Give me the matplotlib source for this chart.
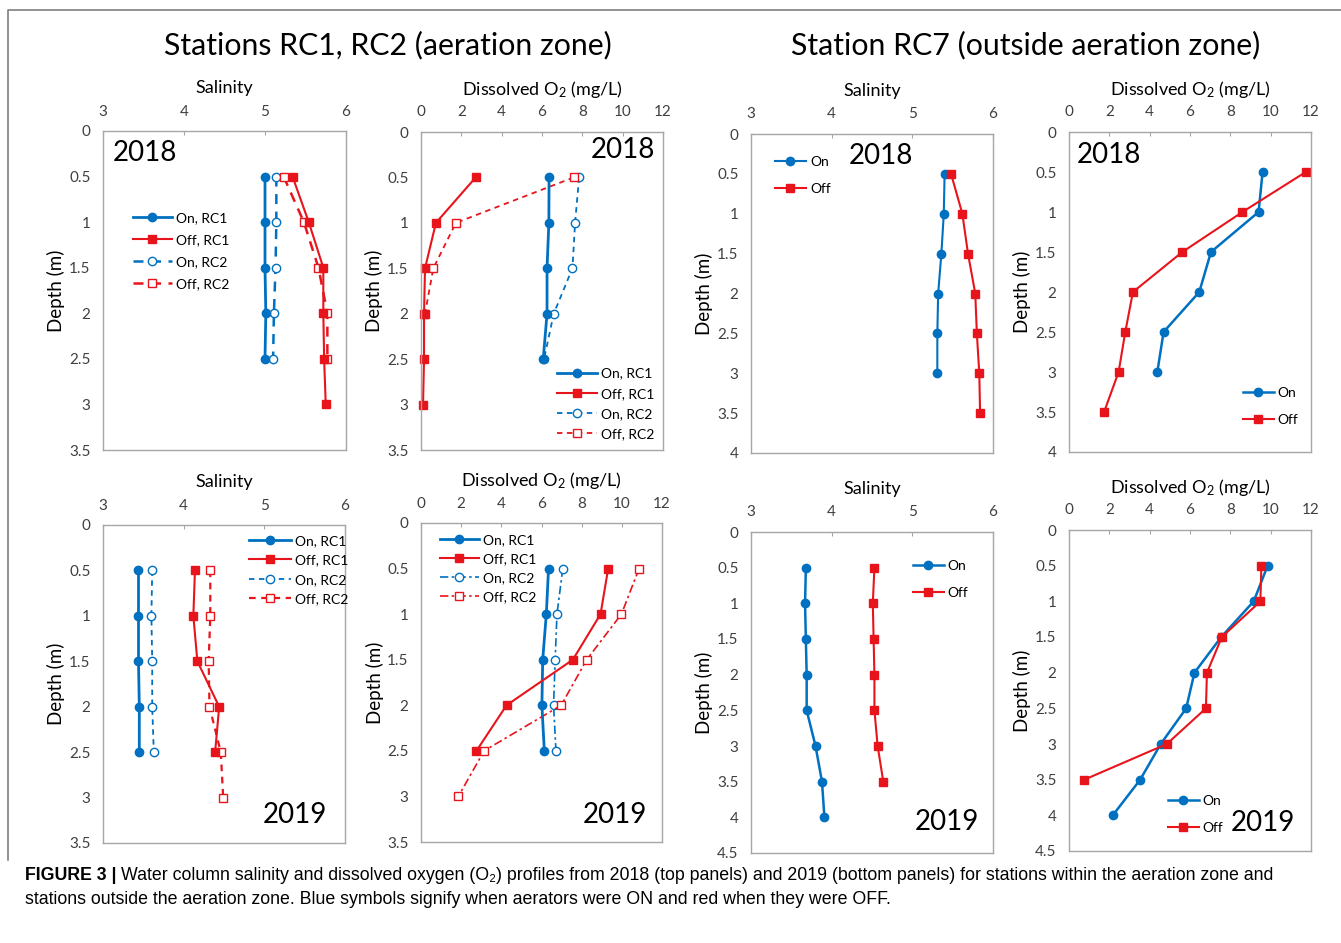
"""Salinity and dissolved O2 depth profiles, aerators on vs off (2018 / 2019)."""
import matplotlib
matplotlib.use("Agg")
import matplotlib.pyplot as plt
from matplotlib.lines import Line2D
from matplotlib.ticker import FuncFormatter

plt.rcParams["font.family"] = ["Lato", "DejaVu Sans"]
plt.rcParams["mathtext.fontset"] = "custom"
plt.rcParams["mathtext.rm"] = "Lato"
plt.rcParams["mathtext.it"] = "Lato:italic"
plt.rcParams["mathtext.bf"] = "Lato:bold"

BLUE = "#0070C0"
RED = "#E8141B"
GRID = "#A6A6A6"
TICK = "#404040"
W, H = 1341, 943

# ---- data: depths (m) ----
depth_25 = [0.5, 1.0, 1.5, 2.0, 2.5]
depth_30 = [0.5, 1.0, 1.5, 2.0, 2.5, 3.0]
depth_35 = [0.5, 1.0, 1.5, 2.0, 2.5, 3.0, 3.5]
depth_40 = [0.5, 1.0, 1.5, 2.0, 2.5, 3.0, 3.5, 4.0]
depth_20 = [0.5, 1.0, 1.5, 2.0]

# 2018, stations RC1 / RC2
sal18_on_rc1 = [5.00, 5.00, 5.00, 5.01, 5.00]
sal18_off_rc1 = [5.34, 5.54, 5.72, 5.72, 5.73, 5.75]
sal18_on_rc2 = [5.14, 5.14, 5.13, 5.11, 5.10]
sal18_off_rc2 = [5.23, 5.48, 5.66, 5.77, 5.77]
do18_on_rc1 = [6.35, 6.34, 6.25, 6.25, 6.06]
do18_off_rc1 = [2.71, 0.74, 0.20, 0.15, 0.15, 0.10]
do18_on_rc2 = [7.84, 7.64, 7.51, 6.58, 6.10]
do18_off_rc2 = [7.57, 1.73, 0.61, 0.20]

# 2018, station RC7
sal18_on_rc7 = [5.40, 5.39, 5.36, 5.32, 5.31, 5.31]
sal18_off_rc7 = [5.48, 5.62, 5.69, 5.78, 5.80, 5.83, 5.84]
do18_on_rc7 = [9.60, 9.40, 7.04, 6.46, 4.69, 4.38]
do18_off_rc7 = [11.74, 8.60, 5.62, 3.17, 2.79, 2.46, 1.74]

# 2019, stations RC1 / RC2
sal19_on_rc1 = [3.44, 3.44, 3.44, 3.45, 3.45]
sal19_off_rc1 = [4.14, 4.12, 4.17, 4.44, 4.39]
sal19_on_rc2 = [3.61, 3.60, 3.61, 3.61, 3.63]
sal19_off_rc2 = [4.33, 4.33, 4.31, 4.32, 4.46, 4.49]
do19_on_rc1 = [6.35, 6.24, 6.06, 6.02, 6.14]
do19_off_rc1 = [9.32, 8.94, 7.56, 4.26, 2.76]
do19_on_rc2 = [7.06, 6.77, 6.68, 6.60, 6.72]
do19_off_rc2 = [10.86, 9.98, 8.25, 6.98, 3.14, 1.86]

# 2019, station RC7
sal19_on_rc7 = [3.68, 3.67, 3.68, 3.69, 3.69, 3.80, 3.88, 3.91]
sal19_off_rc7 = [4.53, 4.51, 4.52, 4.53, 4.53, 4.57, 4.64]
do19_on_rc7 = [9.85, 9.16, 7.55, 6.22, 5.81, 4.55, 3.53, 2.17]
do19_off_rc7 = [9.54, 9.49, 7.58, 6.84, 6.79, 4.85, 0.76]

SAL_TICKS = [3, 4, 5, 6]
DO_TICKS = [0, 2, 4, 6, 8, 10, 12]
SAL_TITLE = "Salinity"
DO_TITLE = "Dissolved O$_2$ (mg/L)"

fig = plt.figure(figsize=(W / 100, H / 100), dpi=100)


def make_ax(left, top, right, bottom, xticks, ymax, title):
    ax = fig.add_axes([left / W, 1 - bottom / H, (right - left) / W, (bottom - top) / H])
    ax.set_xlim(xticks[0], xticks[-1])
    ax.set_ylim(ymax, 0)
    ax.set_xticks(xticks)
    ax.set_yticks([v * 0.5 for v in range(int(ymax * 2) + 1)])
    ax.yaxis.set_major_formatter(FuncFormatter(lambda v, p: f"{v:g}"))
    ax.xaxis.tick_top()
    ax.tick_params(axis="x", direction="in", length=3, pad=9, color=GRID,
                   labelsize=11, labelcolor=TICK)
    ax.tick_params(axis="y", length=0, pad=9, labelsize=11, labelcolor=TICK)
    for s in ax.spines.values():
        s.set_color(GRID)
        s.set_linewidth(1.0)
    ax.text(0.5, 1 + 43 / (bottom - top), title, transform=ax.transAxes,
            ha="center", va="center", fontsize=13)
    ax.set_ylabel("Depth (m)", fontsize=13.5)
    ax.yaxis.set_label_coords(-0.155, 0.5)
    return ax


def series(ax, x, d, color, marker, filled, ls, lw):
    ax.plot(x, d, color=color, ls=ls, lw=lw, marker=marker,
            ms=6 if marker == "s" else 6,
            mfc=color if filled else "white", mec=color, mew=1.0,
            clip_on=False)


def legend(ax, handles, labels, x, y, spacing, hlen):
    ax.legend(handles, labels, loc="upper left", bbox_to_anchor=(x, y),
              frameon=False, fontsize=10, borderpad=0, borderaxespad=0,
              handlelength=hlen, handletextpad=0.3, labelspacing=spacing)


def h(color, marker, filled, ls, lw):
    return Line2D([], [], color=color, ls=ls, lw=lw, marker=marker, ms=6,
                  mfc=color if filled else "white", mec=color)


RC_LABELS = ["On, RC1", "Off, RC1", "On, RC2", "Off, RC2"]
RC7_LABELS = ["On", "Off"]

# --- top row (2018) ---
ax1 = make_ax(103, 131, 346, 450, SAL_TICKS, 3.5, SAL_TITLE)
series(ax1, sal18_on_rc2, depth_25, BLUE, "o", False, (0, (4, 3)), 1.8)
series(ax1, sal18_off_rc2, depth_25, RED, "s", False, (0, (4, 3)), 1.8)
series(ax1, sal18_on_rc1, depth_25, BLUE, "o", True, "-", 2.0)
series(ax1, sal18_off_rc1, depth_30, RED, "s", True, "-", 1.5)
legend(ax1, [h(BLUE, "o", True, "-", 2.0), h(RED, "s", True, "-", 1.5),
             h(BLUE, "o", False, (0, (4, 3)), 1.8), h(RED, "s", False, (0, (4, 3)), 1.8)],
       RC_LABELS, 0.123, 0.746, 0.72, 2.8)
ax1.text(0.04, 0.93, "2018", transform=ax1.transAxes, fontsize=20, va="center")

ax2 = make_ax(421, 132, 663, 450, DO_TICKS, 3.5, DO_TITLE)
series(ax2, do18_on_rc2, depth_25, BLUE, "o", False, (0, (3, 2.5)), 1.3)
series(ax2, do18_off_rc2, depth_20, RED, "s", False, (0, (3, 2.5)), 1.3)
series(ax2, do18_on_rc1, depth_25, BLUE, "o", True, "-", 2.0)
series(ax2, do18_off_rc1, depth_30, RED, "s", True, "-", 1.5)
legend(ax2, [h(BLUE, "o", True, "-", 2.0), h(RED, "s", True, "-", 1.5),
             h(BLUE, "o", False, (0, (3, 2.5)), 1.3), h(RED, "s", False, (0, (3, 2.5)), 1.3)],
       RC_LABELS, 0.562, 0.259, 0.58, 2.9)
ax2.text(0.967, 0.943, "2018", transform=ax2.transAxes, fontsize=20, va="center", ha="right")

ax3 = make_ax(751, 134, 993, 453, SAL_TICKS, 4.0, SAL_TITLE)
series(ax3, sal18_on_rc7, depth_30, BLUE, "o", True, "-", 1.5)
series(ax3, sal18_off_rc7, depth_35, RED, "s", True, "-", 1.5)
legend(ax3, [h(BLUE, "o", True, "-", 1.5), h(RED, "s", True, "-", 1.5)],
       RC7_LABELS, 0.10, 0.931, 1.08, 2.2)
ax3.text(0.537, 0.93, "2018", transform=ax3.transAxes, fontsize=20, va="center", ha="center")

ax4 = make_ax(1069, 132, 1311, 452, DO_TICKS, 4.0, DO_TITLE)
series(ax4, do18_on_rc7, depth_30, BLUE, "o", True, "-", 1.8)
series(ax4, do18_off_rc7, depth_35, RED, "s", True, "-", 1.5)
legend(ax4, [h(BLUE, "o", True, "-", 1.8), h(RED, "s", True, "-", 1.5)],
       RC7_LABELS, 0.719, 0.204, 1.08, 2.2)
ax4.text(0.033, 0.928, "2018", transform=ax4.transAxes, fontsize=20, va="center")

# --- bottom row (2019) ---
ax5 = make_ax(103, 525, 345, 843, SAL_TICKS, 3.5, SAL_TITLE)
series(ax5, sal19_on_rc2, depth_25, BLUE, "o", False, (0, (3, 2.5)), 1.3)
series(ax5, sal19_off_rc2, depth_30, RED, "s", False, (0, (3, 2.5)), 1.6)
series(ax5, sal19_on_rc1, depth_25, BLUE, "o", True, "-", 2.0)
series(ax5, sal19_off_rc1, depth_25, RED, "s", True, "-", 1.5)
legend(ax5, [h(BLUE, "o", True, "-", 2.0), h(RED, "s", True, "-", 1.5),
             h(BLUE, "o", False, (0, (3, 2.5)), 1.3), h(RED, "s", False, (0, (3, 2.5)), 1.6)],
       RC_LABELS, 0.603, 0.969, 0.54, 3.0)
ax5.text(0.926, 0.088, "2019", transform=ax5.transAxes, fontsize=20, va="center", ha="right")

DASHDOT = (0, (5, 2, 1.5, 2))
ax6 = make_ax(421, 523, 662, 842, DO_TICKS, 3.5, DO_TITLE)
series(ax6, do19_on_rc2, depth_25, BLUE, "o", False, DASHDOT, 1.2)
series(ax6, do19_off_rc2, depth_30, RED, "s", False, DASHDOT, 1.2)
series(ax6, do19_on_rc1, depth_25, BLUE, "o", True, "-", 2.0)
series(ax6, do19_off_rc1, depth_25, RED, "s", True, "-", 1.5)
legend(ax6, [h(BLUE, "o", True, "-", 2.0), h(RED, "s", True, "-", 1.5),
             h(BLUE, "o", False, DASHDOT, 1.2), h(RED, "s", False, DASHDOT, 1.2)],
       RC_LABELS, 0.079, 0.965, 0.5, 2.8)
ax6.text(0.94, 0.085, "2019", transform=ax6.transAxes, fontsize=20, va="center", ha="right")

ax7 = make_ax(751, 532, 993, 853, SAL_TICKS, 4.5, SAL_TITLE)
series(ax7, sal19_on_rc7, depth_40, BLUE, "o", True, "-", 1.8)
series(ax7, sal19_off_rc7, depth_35, RED, "s", True, "-", 1.5)
legend(ax7, [h(BLUE, "o", True, "-", 1.8), h(RED, "s", True, "-", 1.5)],
       RC7_LABELS, 0.67, 0.912, 1.08, 2.2)
ax7.text(0.942, 0.097, "2019", transform=ax7.transAxes, fontsize=20, va="center", ha="right")

ax8 = make_ax(1069, 530, 1311, 851, DO_TICKS, 4.5, DO_TITLE)
series(ax8, do19_on_rc7, depth_40, BLUE, "o", True, "-", 1.8)
series(ax8, do19_off_rc7, depth_35, RED, "s", True, "-", 1.5)
legend(ax8, [h(BLUE, "o", True, "-", 1.8), h(RED, "s", True, "-", 1.5)],
       RC7_LABELS, 0.409, 0.174, 1.08, 2.2)
ax8.text(0.934, 0.087, "2019", transform=ax8.transAxes, fontsize=20, va="center", ha="right")

# --- group titles, frame and caption ---
fig.text(388 / W, 1 - 45 / H, "Stations RC1, RC2 (aeration zone)", fontsize=21.8,
         ha="center", va="center")
fig.text(1026 / W, 1 - 45 / H, "Station RC7 (outside aeration zone)", fontsize=21.8,
         ha="center", va="center")

fig.add_artist(Line2D([8 / W, 8 / W, 1.0], [1 - 860 / H, 1 - 10 / H, 1 - 10 / H],
                      color="#7F7F7F", lw=1.2))

CAP_FONT = ["Liberation Sans", "DejaVu Sans"]
t0 = fig.text(25 / W, 1 - 875 / H, "FIGURE 3 |", fontsize=12.8, weight="bold",
              family=CAP_FONT, va="center")
fig.canvas.draw()
bb = t0.get_window_extent()
fig.text((bb.x1 + 5) / W, 1 - 875 / H,
         "Water column salinity and dissolved oxygen (O\u2082) profiles from 2018 (top panels) "
         "and 2019 (bottom panels) for stations within the aeration zone and",
         fontsize=12.8, family=CAP_FONT, va="center")
fig.text(25 / W, 1 - 899 / H,
         "stations outside the aeration zone. Blue symbols signify when aerators were ON "
         "and red when they were OFF.",
         fontsize=12.8, family=CAP_FONT, va="center")

fig.savefig("out.png", dpi=100)
